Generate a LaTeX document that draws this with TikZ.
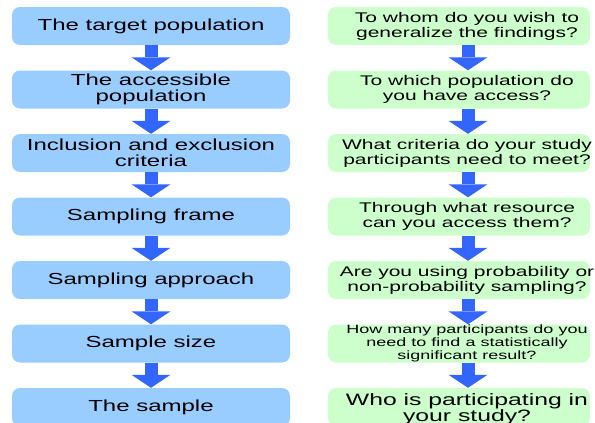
\documentclass[tikz,border=0pt]{standalone}
\usepackage{fontspec}
\setmainfont{Liberation Sans}[FakeStretch=1.5]
\usetikzlibrary{arrows.meta, positioning}
\definecolor{boxblue}{HTML}{99CCFF}
\definecolor{boxgreen}{HTML}{CCFFCC}
\definecolor{arrowblue}{HTML}{3366FF}
\tikzset{
  stagebox/.style={fill=boxblue, rounded corners=8pt, minimum width=278pt,
    minimum height=38pt, inner sep=0pt, align=center,
    font=\fontsize{16}{16}\selectfont},
  askbox/.style={fill=boxgreen, rounded corners=8pt, minimum width=262pt,
    minimum height=38pt, inner sep=0pt},
  asktext/.style={xshift=8pt, inner sep=0pt, align=center,
    font=\fontsize{14}{15}\selectfont},
  flow/.style={draw=arrowblue, line width=13pt,
    -{Triangle[width=39pt, length=13pt, line width=0pt]}}
}
\begin{document}
\begin{tikzpicture}[x=1pt, y=-1pt]
\useasboundingbox (0,0) rectangle (595,423);
\clip (0,0) rectangle (595,423);
% left column: the steps
\node[stagebox] (target) at (151,26) {The target population};
\node[stagebox] (access) at (151,89.5) {The accessible\\population};
\node[stagebox] (criteria) at (151,153) {Inclusion and exclusion\\criteria};
\node[stagebox] (frame) at (151,216.5) {Sampling frame};
\node[stagebox] (approach) at (151,280) {Sampling approach};
\node[stagebox] (size) at (151,343.5) {Sample size};
\node[stagebox] (sample) at (151,407) {The sample};
% right column: the questions
\node[askbox, label={[asktext]center:To whom do you wish to\\generalize the findings?}] (whom) at (459,26) {};
\node[askbox, label={[asktext]center:To which population do\\you have access?}] (which) at (459,89.5) {};
\node[askbox, label={[asktext]center:What criteria do your study\\participants need to meet?}] (meet) at (459,153) {};
\node[askbox, label={[asktext]center:Through what resource\\can you access them?}] (resource) at (459,216.5) {};
\node[askbox, label={[asktext]center:Are you using probability or\\non-probability sampling?}] (prob) at (459,280) {};
\node[askbox, label={[asktext, font=\fontsize{12}{13}\selectfont]center:How many participants do you\\need to find a statistically\\significant result?}] (many) at (459,343.5) {};
\node[askbox, label={[asktext, font=\fontsize{16.5}{15}\selectfont, yshift=-2pt]center:Who is participating in\\your study?}] (who) at (459,407) {};
% arrows
\draw[flow] (target) -- (access);
\draw[flow] (access) -- (criteria);
\draw[flow] (criteria) -- (frame);
\draw[flow] (frame) -- (approach);
\draw[flow] (approach) -- (size);
\draw[flow] (size) -- (sample);
\draw[flow] ([xshift=9pt]whom.south) -- ([xshift=9pt]which.north);
\draw[flow] ([xshift=9pt]which.south) -- ([xshift=9pt]meet.north);
\draw[flow] ([xshift=9pt]meet.south) -- ([xshift=9pt]resource.north);
\draw[flow] ([xshift=9pt]resource.south) -- ([xshift=9pt]prob.north);
\draw[flow] ([xshift=9pt]prob.south) -- ([xshift=9pt]many.north);
\draw[flow] ([xshift=9pt]many.south) -- ([xshift=9pt]who.north);
\end{tikzpicture}
\end{document}
